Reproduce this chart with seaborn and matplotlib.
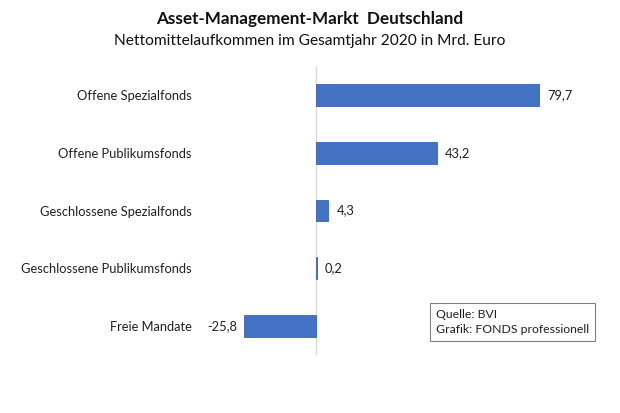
import matplotlib
matplotlib.use("Agg")
import matplotlib.pyplot as plt
import seaborn as sns
import pandas as pd

# Nettomittelaufkommen 2020 in Mrd. Euro
categories = ["Offene Spezialfonds", "Offene Publikumsfonds", "Geschlossene Spezialfonds",
              "Geschlossene Publikumsfonds", "Freie Mandate"]
values = [79.7, 43.2, 4.3, 0.2, -25.8]

df = pd.DataFrame({"kategorie": categories, "wert": values})

sns.set_style("white")
plt.rcParams["font.family"] = ["Lato", "DejaVu Sans"]

fig = plt.figure(figsize=(6.2, 4.13), dpi=100)
W, H = 620, 413
# axes placed in pixel terms: zero line at x=316, 2.8 px per Mrd.
ax = fig.add_axes([200 / W, 1 - 355 / H, 400 / W, 289 / H])

sns.barplot(data=df, x="wert", y="kategorie", color="#4472C4", saturation=1, width=0.38,
            edgecolor="#3A64AE", linewidth=0.6, ax=ax)

ax.set_xlim((200 - 316) / 2.8, (600 - 316) / 2.8)
ax.set_ylim(4.5, -0.5)
ax.axvline(0, color="#D9D9D9", lw=1, zorder=0)

for i, v in enumerate(values):
    lbl = f"{v:.1f}".replace(".", ",")
    if v >= 0:
        ax.annotate(lbl, (v, i), xytext=(6, 0), textcoords="offset points",
                    ha="left", va="center", fontsize=9.3, color="#202020")
    else:
        ax.annotate(lbl, (v, i), xytext=(-5, 0), textcoords="offset points",
                    ha="right", va="center", fontsize=9.3, color="#202020")

ax.set_xlabel("")
ax.set_ylabel("")
ax.set_xticks([])
ax.tick_params(axis="y", length=0, pad=6, labelsize=9.3, labelcolor="#202020")
for s in ax.spines.values():
    s.set_visible(False)

fig.text(0.5, 1 - 19 / H, "Asset-Management-Markt  Deutschland", ha="center", va="center",
         fontsize=12.3, fontweight="bold", color="#111111")
fig.text(0.5, 1 - 41 / H, "Nettomittelaufkommen im Gesamtjahr 2020 in Mrd. Euro", ha="center",
         va="center", fontsize=11.2, color="#111111")

fig.text(436 / W, 1 - 322 / H, "Quelle: BVI\nGrafik: FONDS professionell", ha="left", va="center",
         fontsize=8.8, color="#202020", linespacing=1.35,
         bbox=dict(boxstyle="square,pad=0.5", fc="white", ec="#808080", lw=0.8))

fig.savefig("out.png", dpi=100, facecolor="white")
